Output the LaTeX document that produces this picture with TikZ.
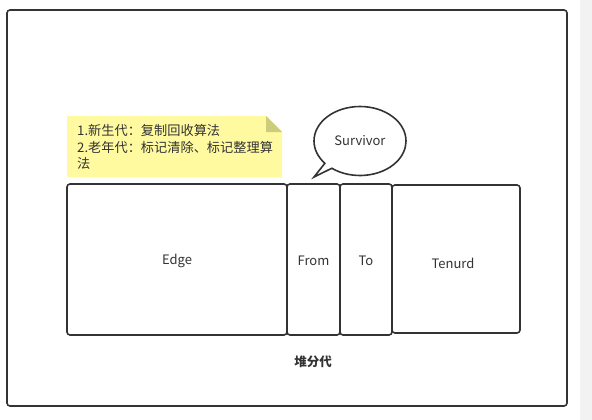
\documentclass[tikz,border=0pt]{standalone}
\usepackage{fontspec}
\setmainfont{Noto Sans CJK SC}
\usetikzlibrary{shapes.callouts}
\definecolor{ink}{HTML}{333333}
\definecolor{notefill}{HTML}{FFFAA0}
\definecolor{notefold}{HTML}{CCCC7E}
\definecolor{sidegray}{HTML}{F2F2F2}
\tikzset{
  frame/.style={draw=ink, line width=1.6pt, rounded corners=3pt},
  cell/.style={draw=ink, line width=1.6pt, rounded corners=3pt},
  lbl/.style={text=ink, font=\fontsize{13}{15}\selectfont, inner sep=0pt},
}
\begin{document}
\begin{tikzpicture}[x=1pt,y=-1pt]
\useasboundingbox (0,0) rectangle (592,420);
\fill[white] (0,0) rectangle (592,420);
\fill[sidegray] (580,0) rectangle (592,420);
% outer frame
\draw[frame] (7,10) rectangle (567,406);
% note
\fill[notefill] (67,116) -- (266,116) -- (282,132) -- (282,177) -- (67,177) -- cycle;
\fill[notefold] (266,116) -- (282,132) -- (266,132) -- cycle;
\node[lbl, anchor=north west, align=left, font=\fontsize{13.2}{16.5}\selectfont] (note) at (77,124.5)
  {1.新生代：复制回收算法\\2.老年代：标记清除、标记整理算\\法};
% cells
\draw[cell] (67,184) rectangle (287,335);
\draw[cell] (287,184) rectangle (340,335);
\draw[cell] (340,184) rectangle (392,335);
\draw[cell] (392,185) rectangle (520,333);
\node[lbl] (edge) at (177,261) {Edge};
\node[lbl] (from) at (313.5,261) {From};
\node[lbl] (to) at (366,261) {To};
\node[lbl] (tenurd) at (453,263) {Tenurd};
% callout
\node[ellipse callout, draw=ink, line width=1.6pt, fill=white, minimum width=92pt, minimum height=69pt,
  callout absolute pointer={(314,177)}, callout pointer arc=12, lbl] (surv) at (360,141) {Survivor};
% title
\node[lbl, font=\fontsize{12.5}{15}\selectfont\bfseries] (title) at (313,362) {堆分代};
\end{tikzpicture}
\end{document}
